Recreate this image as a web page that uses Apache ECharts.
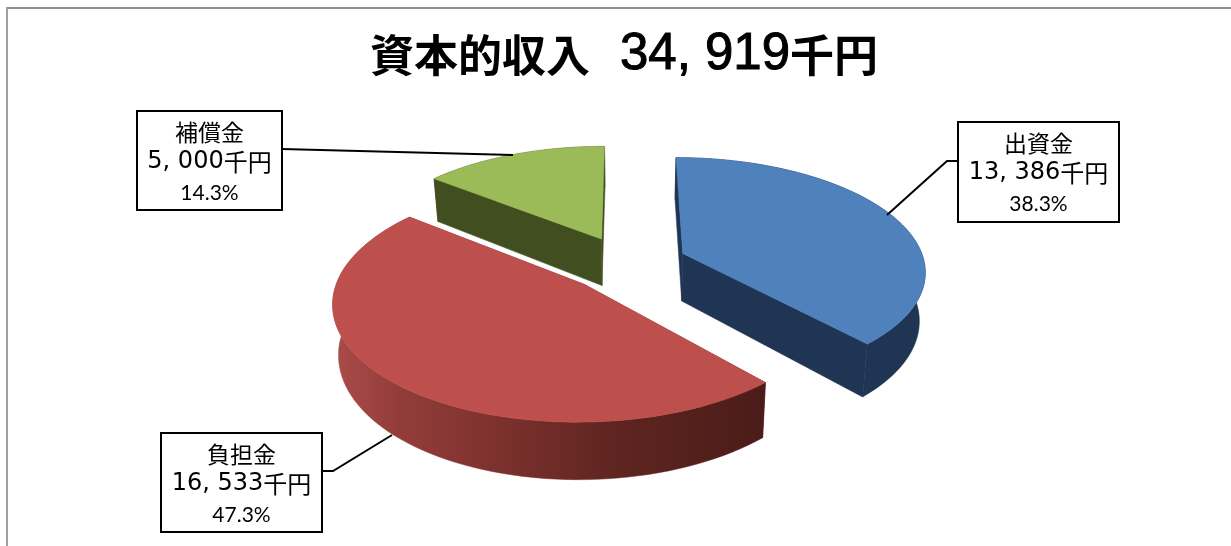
<!DOCTYPE html>
<html><head><meta charset="utf-8">
<script src="https://cdn.jsdelivr.net/npm/echarts@6/dist/echarts.min.js"></script>
<style>html,body{margin:0;padding:0;background:#fff}#c{width:1231px;height:546px}</style>
</head><body><div id="c"></div>
<script>
const categories = ['出資金','負担金','補償金'];
const values = [13386,16533,5000];
const amountLabels = ['13, 386','16, 533','5, 000'];
const percentLabels = ['38.3%','47.3%','14.3%'];

const CJK = '"Noto Sans CJK JP"';
const topColors = ['#4f81bd','#bd504d','#9bbb59'];
const sideColors = ['#1f3553','#7a2f2c','#414f20'];
const layer = [2,3,1];
const view = {cx:627,cy:263.5,R:242,ky:112,p:0.14,e:0.25,depth:48,q:0.02,start:0};
const boxes = [
  {x:958,y:122,w:161,h:100,line:[[958,161],[947,161],[887,215]]},
  {x:161,y:433,w:161,h:99,line:[[322,471],[333,471],[392,435]]},
  {x:137,y:111,w:145,h:99,line:[[282,149],[513,155]]}
];
const total = values.reduce((a,b)=>a+b,0);
const rad = d=>d*Math.PI/180;
function proj(X,Y,z){
  const s=1/(1+view.p*Y);
  return [view.cx+X*view.R*s*(1-view.q*z), view.cy-Y*view.ky*s+view.depth*s*z];
}
function sliceAngles(i){
  let a=view.start;
  for(let k=0;k<i;k++) a+=values[k]/total*360;
  return [a,a+values[i]/total*360];
}
function renderItem(params,api){
  const i=params.dataIndex;
  const [a0,a1]=sliceAngles(i);
  const m=(a0+a1)/2;
  const ox=view.e*Math.sin(rad(m)), oy=view.e*Math.cos(rad(m));
  const arc=[];
  for(let a=a0;a<=a1+1e-6;a+=(a1-a0)/80) arc.push([ox+Math.sin(rad(a)),oy+Math.cos(rad(a))]);
  const top=arc.map(p=>proj(p[0],p[1],0));
  const bot=arc.map(p=>proj(p[0],p[1],1));
  const at=proj(ox,oy,0), ab=proj(ox,oy,1);
  const z=layer[i]*10;
  const side=sideColors[i];
  const wallFill=i===1?new echarts.graphic.LinearGradient(0,0,1,0,[
    {offset:0,color:'#ab4c49'},{offset:0.15,color:'#933d3a'},{offset:0.4,color:'#7b302d'},
    {offset:0.65,color:'#5f2520'},{offset:1,color:'#4a1c19'}]):side;
  const poly=(pts,fill,zz)=>({type:'polygon',shape:{points:pts},z2:zz,silent:true,
    style:{fill:fill,stroke:fill,lineWidth:0.5}});
  const children=[
    poly([at,top[top.length-1],bot[bot.length-1],ab],side,z),
    poly([at,top[0],bot[0],ab],side,z+1),
    poly(top.concat(bot.slice().reverse()),wallFill,z+2),
    poly([at].concat(top),topColors[i],z+3)
  ];
  return {type:'group',children};
}
function renderBox(params,api){
  const i=params.dataIndex, b=boxes[i];
  const cx=b.x+b.w/2;
  return {type:'group',children:[
    {type:'polyline',shape:{points:b.line},z2:60,silent:true,style:{fill:null,stroke:'#000',lineWidth:2}},
    {type:'rect',shape:{x:b.x,y:b.y,width:b.w,height:b.h},z2:61,silent:true,style:{fill:'#fff',stroke:'#000',lineWidth:2}},
    {type:'text',z2:62,silent:true,style:{x:cx,y:b.y+21,text:categories[i],align:'center',verticalAlign:'middle',font:'23px '+CJK,fill:'#000'}},
    {type:'text',z2:62,silent:true,style:{x:cx,y:b.y+51,align:'center',verticalAlign:'middle',
      text:'{d|'+amountLabels[i]+'}{c|千円}',fill:'#000',rich:{d:{fontFamily:'DejaVu Sans',fontSize:24,fill:'#000'},c:{fontFamily:'Noto Sans CJK JP',fontSize:24,fill:'#000'}}}},
    {type:'text',z2:62,silent:true,style:{x:cx,y:b.y+82,text:percentLabels[i],align:'center',verticalAlign:'middle',font:'21px Lato',fill:'#000'}}
  ]};
}
const chart=echarts.init(document.getElementById('c'),null,{renderer:'canvas'});
chart.setOption({
  animation:false,backgroundColor:'#fff',
  title:{text:'{c|資本的収入}{s|  }{d|34, 919}{c|千円}',left:619,top:23,textAlign:'center',
    textStyle:{rich:{c:{fontFamily:'Noto Sans CJK JP',fontWeight:'bold',fontSize:44,color:'#000'},
      s:{fontFamily:'Liberation Sans',fontWeight:'normal',fontSize:54,color:'#000'},
      d:{fontFamily:'Liberation Sans',fontWeight:'normal',fontSize:51,color:'#000',textBorderColor:'#000',textBorderWidth:1}}}},
  graphic:[
    {type:'line',shape:{x1:7,y1:8,x2:1231,y2:8},style:{stroke:'#909090',lineWidth:2},silent:true},
    {type:'line',shape:{x1:7,y1:7,x2:7,y2:546},style:{stroke:'#a0a0a0',lineWidth:2},silent:true}
  ],
  series:[
    {type:'custom',coordinateSystem:'none',renderItem,data:values,silent:true,z:2},
    {type:'custom',coordinateSystem:'none',renderItem:renderBox,data:values,silent:true,z:3}
  ]
});
</script></body></html>
